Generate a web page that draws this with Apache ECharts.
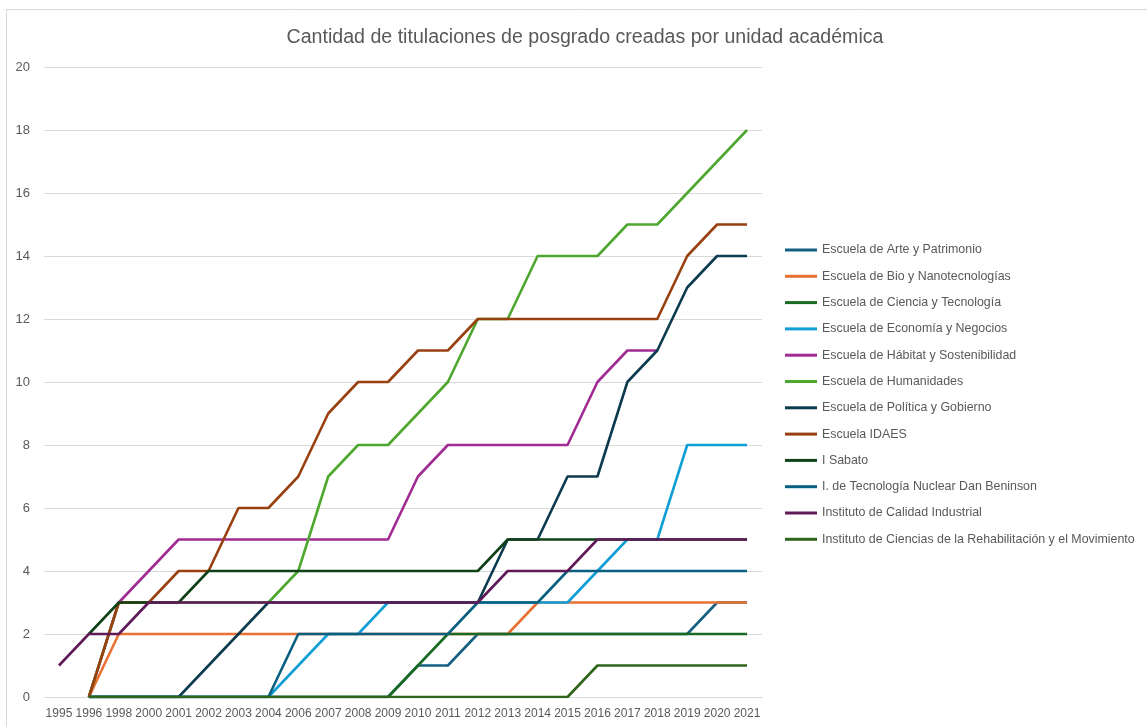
<!DOCTYPE html>
<html>
<head>
<meta charset="utf-8">
<script src="https://cdn.jsdelivr.net/npm/echarts@6/dist/echarts.min.js"></script>
<style>
  html, body { margin: 0; padding: 0; background: #fff; }
  #main { width: 1147px; height: 727px; }
</style>
</head>
<body>
<div id="main"></div>
<script>
// años (eje de categorías)
var years = ['1995','1996','1998','2000','2001','2002','2003','2004','2006','2007','2008','2009',
             '2010','2011','2012','2013','2014','2015','2016','2017','2018','2019','2020','2021'];

var arte        = [null,0,0,0,0,0,0,0,0,0,0,0,1,1,2,2,2,2,2,2,2,2,3,3];
var bio         = [null,0,2,2,2,2,2,2,2,2,2,2,2,2,2,2,3,3,3,3,3,3,3,3];
var cienciaTec  = [null,0,0,0,0,0,0,0,0,0,0,0,1,2,2,2,2,2,2,2,2,2,2,2];
var economia    = [null,0,0,0,0,0,0,0,1,2,2,3,3,3,3,3,3,3,4,5,5,8,8,8];
var habitat     = [null,0,3,4,5,5,5,5,5,5,5,5,7,8,8,8,8,8,10,11,11,null,null,null];
var humanidades = [null,0,3,3,3,3,3,3,4,7,8,8,9,10,12,12,14,14,14,15,15,16,17,18];
var politica    = [null,0,0,0,0,1,2,3,3,3,3,3,3,3,3,5,5,7,7,10,11,13,14,14];
var idaes       = [null,0,3,3,4,4,6,6,7,9,10,10,11,11,12,12,12,12,12,12,12,14,15,15];
var sabato      = [null,2,3,3,3,4,4,4,4,4,4,4,4,4,4,5,5,5,5,5,5,5,5,5];
var nuclear     = [null,0,0,0,0,0,0,0,2,2,2,2,2,2,3,3,3,4,4,4,4,4,4,4];
var calidad     = [1,2,2,3,3,3,3,3,3,3,3,3,3,3,3,4,4,4,5,5,5,5,5,5];
var rehab       = [null,0,0,0,0,0,0,0,0,0,0,0,0,0,0,0,0,0,1,1,1,1,1,1];

var names = ['Escuela de Arte y Patrimonio','Escuela de Bio y Nanotecnologías','Escuela de Ciencia y Tecnología',
             'Escuela de Economía y Negocios','Escuela de Hábitat y Sostenibilidad','Escuela de Humanidades',
             'Escuela de Política y Gobierno','Escuela IDAES','I Sabato','I. de Tecnología Nuclear Dan Beninson',
             'Instituto de Calidad Industrial','Instituto de Ciencias de la Rehabilitación y el Movimiento'];
var colors = ['#156082','#E97132','#196B24','#0F9ED5','#A02B93','#4EA72E',
              '#0C3A4E','#984010','#0F4016','#095F80','#601A58','#2F641C'];
var values = [arte, bio, cienciaTec, economia, habitat, humanidades, politica, idaes, sabato, nuclear, calidad, rehab];

var font = 'Liberation Sans';
var series = [];
for (var i = 0; i < names.length; i++) {
  series.push({
    name: names[i],
    type: 'line',
    data: values[i],
    symbol: 'none',
    lineStyle: { width: 2.6 },
    emphasis: { disabled: true }
  });
}

var myChart = echarts.init(document.getElementById('main'));
var option = {
  animation: false,
  color: colors,
  title: {
    text: 'Cantidad de titulaciones de posgrado creadas por unidad académica',
    left: 580, top: 23, textAlign: 'center',
    textStyle: { fontFamily: font, fontSize: 19.6, fontWeight: 'normal', color: '#595959' }
  },
  graphic: [
    { type: 'line', shape: { x1: 6.5, y1: 9, x2: 6.5, y2: 727 }, style: { stroke: '#d9d9d9', lineWidth: 1 } },
    { type: 'line', shape: { x1: 6, y1: 9.5, x2: 1147, y2: 9.5 }, style: { stroke: '#d9d9d9', lineWidth: 1 } }
  ],
  legend: {
    orient: 'vertical',
    left: 780, top: 238,
    icon: 'rect',
    itemWidth: 32, itemHeight: 3,
    itemGap: 12.3,
    textStyle: { fontFamily: font, fontSize: 12.4, color: '#595959', lineHeight: 14 }
  },
  grid: { left: 44, right: 385, top: 67, bottom: 30 },
  xAxis: {
    type: 'category',
    data: years,
    boundaryGap: true,
    axisLine: { lineStyle: { color: '#d9d9d9' } },
    axisTick: { show: false },
    axisLabel: { interval: 0, margin: 11, fontFamily: font, fontSize: 12, color: '#595959' }
  },
  yAxis: {
    type: 'value',
    min: 0, max: 20, interval: 2,
    axisLine: { show: false },
    axisTick: { show: false },
    splitLine: { lineStyle: { color: '#d9d9d9' } },
    axisLabel: { margin: 14, fontFamily: font, fontSize: 13, color: '#595959' }
  },
  series: series
};
myChart.setOption(option);
</script>
</body>
</html>
